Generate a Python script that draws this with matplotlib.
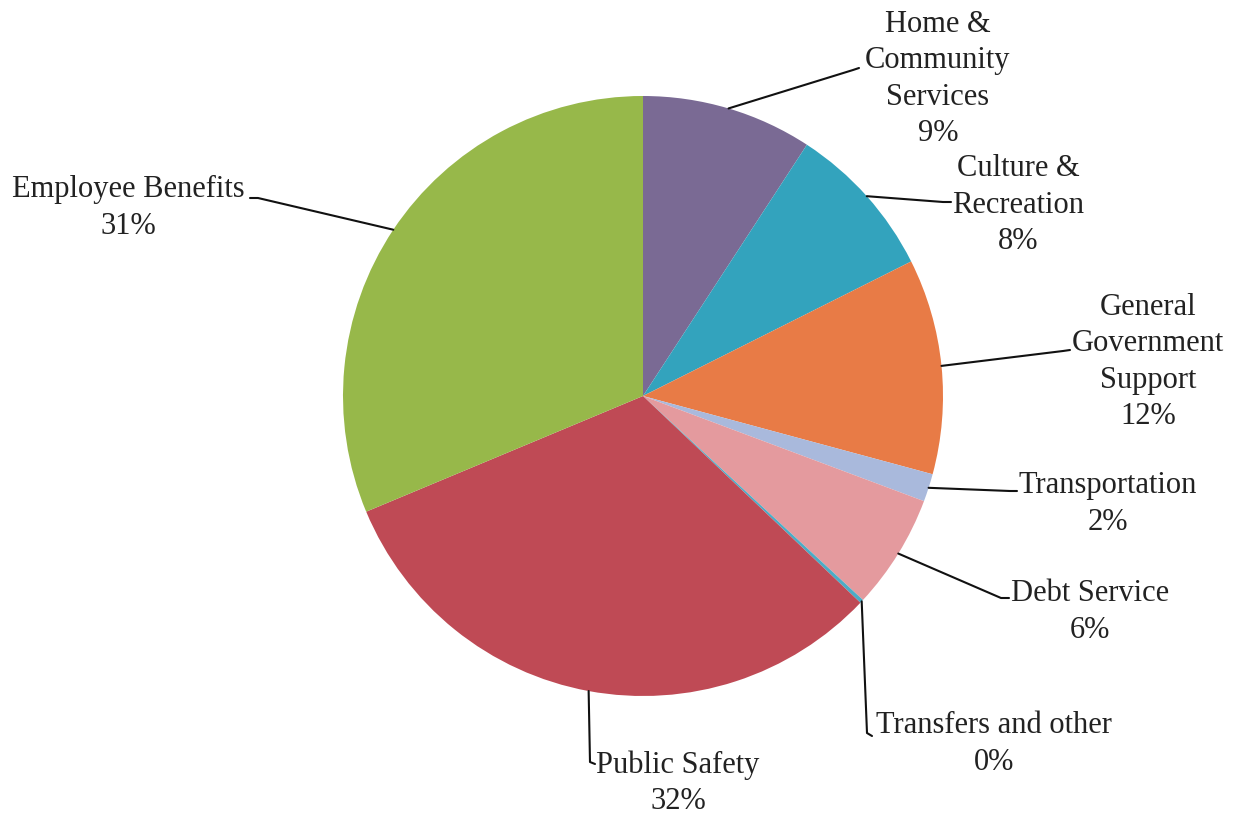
import numpy as np
import matplotlib
matplotlib.use("Agg")
import matplotlib.pyplot as plt

# ---- data ----
categories = ["Home &\nCommunity\nServices", "Culture &\nRecreation",
              "General\nGovernment\nSupport", "Transportation", "Debt Service",
              "Transfers and other", "Public Safety", "Employee Benefits"]
values = [9.2, 8.4, 11.6, 1.5, 6.2, 0.2, 31.6, 31.3]
colors = ["#7a6a94", "#33a3bd", "#e87b46", "#a9b9dc", "#e49a9e",
          "#4bacc6", "#bf4a55", "#97b84a"]

# label layout (pixel coords, y from top): text centre, leader elbow, leader end
label_pos = [(938, 79), (1018, 205), (1148, 362), (1108, 504), (1090, 612),
             (994, 744), (678, 783), (128, 208)]
leader_elbow = [(853, 70), (943, 202), (1063, 351), (1010, 491), (1001, 598),
                (867, 733), (590, 762), (258, 198)]
leader_end = [(859, 68), (951, 202), (1070, 350), (1017, 491), (1009, 598),
              (872, 736), (595, 764), (250, 198)]

W, H = 1236, 817
fig = plt.figure(figsize=(W / 100, H / 100), dpi=100)
ax = fig.add_axes([0, 0, 1, 1])

cx, cy, R = 643, H - 396, 300
wedges, _ = ax.pie(values, colors=colors, startangle=90, counterclock=False,
                   center=(cx, cy), radius=R, frame=True,
                   wedgeprops=dict(linewidth=0))
ax.set_xlim(0, W)
ax.set_ylim(0, H)
ax.set_aspect("equal")
ax.axis("off")

font = dict(family=["Liberation Serif", "DejaVu Serif"], size=22, color="#222222")
total = sum(values)
for i, (cat, v) in enumerate(zip(categories, values)):
    w = wedges[i]
    mid = np.deg2rad((w.theta1 + w.theta2) / 2)
    sx, sy = cx + R * np.cos(mid), cy + R * np.sin(mid)
    ex, ey = leader_elbow[i]
    fx, fy = leader_end[i]
    ax.plot([sx, ex, fx], [sy, H - ey, H - fy], color="#111111", lw=1.5,
            solid_joinstyle="round", solid_capstyle="round")
    tx, ty = label_pos[i]
    pct = round(v / total * 100)
    ax.text(tx, H - ty, f"{cat}\n{pct}%", ha="center", va="center",
            linespacing=1.33, **font)

fig.savefig("out.png", dpi=100, facecolor="white")
